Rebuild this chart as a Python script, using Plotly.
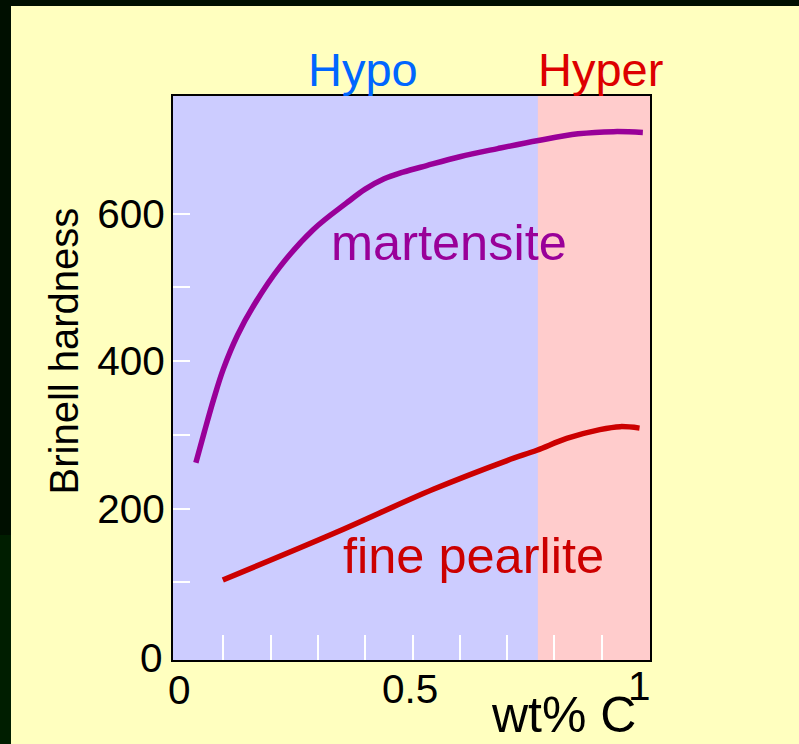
import plotly.graph_objects as go

# ---------------- data ----------------
martensite_c = [0.042, 0.060, 0.080, 0.100, 0.130, 0.165, 0.220, 0.290, 0.360, 0.400, 0.440, 0.480, 0.530, 0.600, 0.680, 0.766, 0.850, 0.925, 0.987]
martensite_hb = [262, 304, 349, 389, 435, 476, 528, 578, 614, 633, 647, 656, 665, 677, 688, 699, 708, 711, 710]

pearlite_c = [0.099, 0.333, 0.544, 0.700, 0.763, 0.826, 0.896, 0.939, 0.980]
pearlite_hb = [103, 166, 226, 265, 279, 295, 307, 311, 309]

eutectoid_c = 0.765
x_minor_ticks = [0.1, 0.2, 0.3, 0.4, 0.5, 0.6, 0.7, 0.8, 0.9]
x_tick_vals = [0, 0.5, 1]
x_tick_text = ["0", "0.5", "1"]
y_tick_vals = [100, 200, 300, 400, 500, 600]
y_tick_text = ["", "200", "", "400", "", "600"]
y_zero_label = "0"

# ---------------- layout geometry (pixels) ----------------
W, H = 799, 744
L, R, T, B = 173, 650, 96, 660
FONT = "Liberation Sans, Arial, sans-serif"


def pxx(px):
    return (px - L) / (R - L)


def pxy(py):
    return (B - py) / (B - T)


fig = go.Figure()

fig.add_trace(go.Scatter(x=martensite_c, y=martensite_hb, mode="lines",
                         line=dict(color="#990099", width=5.5, shape="spline", smoothing=1.0),
                         hoverinfo="skip", showlegend=False))
fig.add_trace(go.Scatter(x=pearlite_c, y=pearlite_hb, mode="lines",
                         line=dict(color="#CC0000", width=5.5, shape="spline", smoothing=1.0),
                         hoverinfo="skip", showlegend=False))

shapes = [
    # hyper-eutectoid region
    dict(type="rect", xref="x", yref="paper", x0=eutectoid_c, x1=2, y0=0, y1=1,
         fillcolor="#FFCCCC", line=dict(width=0), layer="below"),
    # dark frame strips of the slide
    dict(type="rect", xref="paper", yref="paper", x0=pxx(0), x1=pxx(W), y0=pxy(6), y1=pxy(0),
         fillcolor="#000F00", line=dict(width=0), layer="above"),
    dict(type="rect", xref="paper", yref="paper", x0=pxx(0), x1=pxx(11), y0=pxy(535), y1=pxy(0),
         fillcolor="#000F00", line=dict(width=0), layer="above"),
    dict(type="rect", xref="paper", yref="paper", x0=pxx(0), x1=pxx(11), y0=pxy(H), y1=pxy(535),
         fillcolor="#001E00", line=dict(width=0), layer="above"),
]

annotations = [
    dict(text="Hypo", x=pxx(363.3), y=pxy(69.7), font=dict(size=47, color="#0066FF", family=FONT)),
    dict(text="Hyper", x=pxx(600.8), y=pxy(69.7), font=dict(size=47, color="#DD0000", family=FONT)),
    dict(text="martensite", x=pxx(449), y=pxy(242.6), font=dict(size=50.5, color="#990099", family=FONT)),
    dict(text="fine pearlite", x=pxx(473.5), y=pxy(555.3), font=dict(size=50.5, color="#CC0000", family=FONT)),
    dict(text="wt% C", x=pxx(563.5), y=pxy(715.3), font=dict(size=50, color="black", family=FONT)),
    dict(text="Brinell hardness", x=pxx(63), y=pxy(351.5), textangle=-90,
         font=dict(size=40, color="black", family=FONT)),
]
for a in annotations:
    a.update(xref="paper", yref="paper", showarrow=False, xanchor="center", yanchor="middle")

TICKSIZE = 40.5
# x tick labels (placed at their values, with small pixel nudges as in the original)
x_label_shift = [3, -3, -10]
x_label_y = [690.5, 688.5, 686]
for v, t, dx, py in zip(x_tick_vals, x_tick_text, x_label_shift, x_label_y):
    annotations.append(dict(text=t, x=v, xref="x", y=pxy(py), yref="paper", xshift=dx,
                            showarrow=False, xanchor="center", yanchor="middle",
                            font=dict(size=TICKSIZE, color="black", family=FONT)))
annotations.append(dict(text=y_zero_label, x=pxx(165), xref="paper", y=0, yref="y", yshift=-2,
                        showarrow=False, xanchor="right", yanchor="middle",
                        font=dict(size=TICKSIZE, color="black", family=FONT)))

fig.update_layout(
    width=W, height=H,
    margin=dict(l=L, r=W - R, t=T, b=H - B, pad=0),
    paper_bgcolor="#FFFFBF",
    plot_bgcolor="#CCCCFF",
    shapes=shapes,
    annotations=annotations,
    showlegend=False,
)

x_per_unit = 473.0
y_per_unit = 0.7375
fig.update_xaxes(range=[(L - 176) / x_per_unit, (R - 176) / x_per_unit],
                 showgrid=False, zeroline=False,
                 showline=True, mirror=True, linecolor="black", linewidth=2,
                 tickmode="array", tickvals=x_minor_ticks, showticklabels=False,
                 ticks="inside", ticklen=25, tickwidth=2, tickcolor="white")
fig.update_yaxes(range=[(656 - B) / y_per_unit, (656 - T) / y_per_unit],
                 showgrid=False, zeroline=False,
                 showline=True, mirror=True, linecolor="black", linewidth=2,
                 tickmode="array", tickvals=y_tick_vals, ticktext=y_tick_text,
                 ticks="inside", ticklen=17, tickwidth=2, tickcolor="white",
                 tickfont=dict(size=TICKSIZE, color="black", family=FONT), ticklabelstandoff=-2)

fig.write_html("out.html", config={"displayModeBar": False},
               post_script="document.body.style.margin='0';document.body.style.overflow='hidden';")
